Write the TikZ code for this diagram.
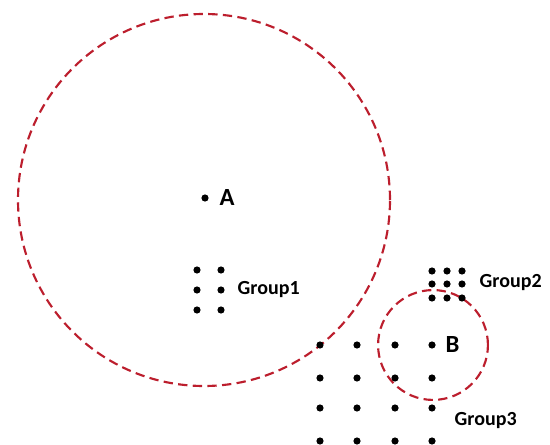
\documentclass[tikz,border=0pt]{standalone}
\usepackage{fontspec}
\setmainfont{Carlito}
\definecolor{ringred}{RGB}{188,30,45}

\begin{document}
\begin{tikzpicture}[x=0.75pt,y=-0.75pt,pnt/.style={circle,fill=black,inner sep=0pt,minimum size=5.4pt},ring/.style={draw=ringred,dashed,line width=1.6pt,dash pattern=on 7pt off 4pt},big/.style={anchor=west,font=\fontsize{18.5}{20}\selectfont\bfseries},grp/.style={anchor=west,font=\fontsize{15}{17}\selectfont\bfseries}]
  \useasboundingbox (0,0) rectangle (550,445);
  % the two regions
  \coordinate (ca) at (204,200);
  \coordinate (cb) at (433,345);
  \draw[ring] (ca) circle[radius=139.5pt];
  \draw[ring] (cb) circle[radius=41.2pt];
  % centres
  \node[pnt] (A) at (205,198) {};
  \node[big] (Alab) at (215,198) {A};
  \node[pnt] (B) at (432,345) {};
  \node[big] (Blab) at (441,345) {B};
  % Group1
  \node[pnt] (g1a) at (197,270) {}; \node[pnt] (g1b) at (221,270) {};
  \node[pnt] (g1c) at (197,290) {}; \node[pnt] (g1d) at (221,290) {};
  \node[pnt] (g1e) at (197,310) {}; \node[pnt] (g1f) at (221,310) {};
  \node[grp] (g1lab) at (233,290) {Group1};
  % Group2
  \node[pnt] (g2a) at (432,271) {}; \node[pnt] (g2b) at (447,271) {}; \node[pnt] (g2c) at (462,271) {};
  \node[pnt] (g2d) at (432,284) {}; \node[pnt] (g2e) at (447,284) {}; \node[pnt] (g2f) at (462,284) {};
  \node[pnt] (g2g) at (432,298) {}; \node[pnt] (g2h) at (447,298) {}; \node[pnt] (g2i) at (462,298) {};
  \node[grp] (g2lab) at (475,283) {Group2};
  % Group3
  \node[pnt] (g3a) at (320,345) {}; \node[pnt] (g3b) at (357,345) {}; \node[pnt] (g3c) at (395,345) {};
  \node[pnt] (g3d) at (320,378) {}; \node[pnt] (g3e) at (357,378) {}; \node[pnt] (g3f) at (395,378) {}; \node[pnt] (g3g) at (432,378) {};
  \node[pnt] (g3h) at (320,408) {}; \node[pnt] (g3i) at (357,408) {}; \node[pnt] (g3j) at (395,408) {}; \node[pnt] (g3k) at (432,408) {};
  \node[pnt] (g3l) at (320,441) {}; \node[pnt] (g3m) at (357,441) {}; \node[pnt] (g3n) at (395,441) {}; \node[pnt] (g3o) at (432,441) {};
  \node[grp] (g3lab) at (450,421) {Group3};
\end{tikzpicture}
\end{document}
